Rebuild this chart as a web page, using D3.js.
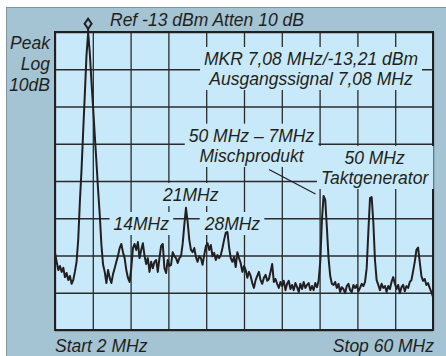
<!DOCTYPE html>
<html><head><meta charset="utf-8">
<script src="https://cdnjs.cloudflare.com/ajax/libs/d3/7.8.5/d3.min.js"></script>
<style>
html,body{margin:0;padding:0;background:#fff;}
text{font-family:"Liberation Sans",Arial,Helvetica,sans-serif;font-style:italic;fill:#231f20;}
</style></head>
<body><svg id="c" width="446" height="356"></svg>
<script>
// ---- data ----
const sweepStart = 2, sweepStop = 60;          // MHz
const refLevel = -13, dbPerDiv = 10, yDivs = 8; // dBm
const xDivs = 10;
const levels = [
-72.3,-74.7,-76.9,-75.8,-77.4,-76.3,-78.8,-77.7,-79.6,-78.5,
-80.6,-79.6,-77.4,-74.7,-68.8,-58.6,-50.0,-39.6,-29.6,-19.2,
-13.2,-18.7,-26.4,-33.4,-40.9,-47.9,-55.4,-62.1,-70.2,-75.5,
-77.4,-80.4,-76.9,-79.0,-80.4,-78.0,-76.4,-74.7,-73.1,-71.0,
-69.9,-72.1,-73.7,-76.9,-79.0,-80.1,-76.4,-71.0,-69.9,-71.5,
-69.4,-73.7,-71.5,-69.7,-73.1,-75.3,-73.7,-77.4,-74.7,-76.4,
-74.7,-74.2,-77.4,-73.7,-70.5,-69.9,-76.4,-77.7,-74.2,-75.8,
-75.5,-72.1,-73.2,-73.7,-75.0,-73.7,-73.2,-69.9,-64.8,-60.2,
-64.0,-68.8,-71.5,-72.1,-71.0,-73.4,-74.7,-73.2,-73.7,-75.5,
-72.9,-70.5,-69.7,-71.5,-70.2,-73.2,-72.3,-74.2,-72.9,-73.7,
-72.9,-71.0,-68.8,-66.9,-66.7,-70.8,-73.7,-74.7,-73.4,-76.1,
-72.1,-73.7,-75.0,-77.4,-75.8,-76.9,-79.0,-77.4,-78.5,-80.4,
-81.7,-79.6,-78.5,-77.4,-79.6,-80.6,-79.0,-78.2,-79.8,-79.3,
-77.4,-75.3,-80.1,-79.3,-80.6,-81.7,-80.1,-81.2,-79.8,-82.3,
-80.6,-79.8,-82.0,-80.9,-82.3,-80.4,-81.5,-82.8,-80.6,-82.0,
-80.1,-81.7,-80.9,-80.4,-82.3,-81.2,-82.3,-80.4,-81.5,-79.8,
-74.7,-63.5,-57.0,-58.1,-65.6,-73.7,-78.5,-80.6,-80.9,-80.1,
-81.7,-80.6,-82.8,-81.5,-82.0,-83.1,-81.2,-80.6,-82.3,-82.8,
-80.9,-81.7,-80.9,-82.6,-81.7,-80.6,-81.2,-80.1,-76.4,-66.7,
-57.6,-57.3,-64.0,-74.2,-79.6,-80.9,-82.3,-80.6,-81.7,-81.2,
-82.8,-81.2,-82.0,-80.1,-78.8,-80.6,-82.0,-80.9,-83.1,-81.5,
-80.9,-82.6,-81.2,-81.7,-80.1,-79.6,-77.2,-74.7,-71.5,-70.9,
-74.7,-78.5,-79.8,-79.3,-80.9,-80.4,-81.7,-82.8,-84.1
];
const markerFreq = 7.08, markerLevel = -13.21;
const headerText = "Ref -13 dBm Atten 10 dB";
const scaleLines = ["Peak", "Log", "10dB"];
const markerLines = ["MKR 7,08 MHz/-13,21 dBm", "Ausgangssignal 7,08 MHz"];
const mixLines = ["50 MHz \u2013 7MHz", "Mischprodukt"];
const clockLines = ["50 MHz", "Taktgenerator"];
const harmonicLabels = ["21MHz", "14MHz", "28MHz"];
const startLabel = "Start 2 MHz", stopLabel = "Stop 60 MHz";

// ---- layout ----
const svg = d3.select("#c");
const L = 55, T = 32, R = 433, B = 330;
const PANEL = "#a4c3d3", PLOT = "#c8e9f9", INK = "#231f20";

const freqs = levels.map((_, i) => sweepStart + i * (sweepStop - sweepStart) / (levels.length - 1));
const x = d3.scaleLinear().domain([sweepStart, sweepStop]).range([L, R]);
const y = d3.scaleLinear().domain([refLevel, refLevel - dbPerDiv * yDivs]).range([T, B]);

svg.append("rect").attr("x", 6.5).attr("y", 7.5).attr("width", 446).attr("height", 356)
  .attr("fill", PANEL).attr("stroke", "#8195a1").attr("stroke-width", 1);
svg.append("rect").attr("x", L).attr("y", T).attr("width", R - L).attr("height", B - T).attr("fill", PLOT);

const xTicks = d3.range(xDivs + 1).map(k => sweepStart + k * (sweepStop - sweepStart) / xDivs);
const yTicks = d3.range(yDivs + 1).map(k => refLevel - k * dbPerDiv);
const gx = svg.append("g").attr("transform", `translate(0,${B})`)
  .call(d3.axisBottom(x).tickValues(xTicks).tickSize(-(B - T)).tickFormat(""));
const gy = svg.append("g").attr("transform", `translate(${L},0)`)
  .call(d3.axisLeft(y).tickValues(yTicks).tickSize(-(R - L)).tickFormat(""));
[gx, gy].forEach(g => {
  g.select(".domain").remove();
  g.selectAll("line").attr("stroke", "#2b2b2b").attr("stroke-width", 1.3);
});
svg.append("rect").attr("x", L).attr("y", T).attr("width", R - L).attr("height", B - T)
  .attr("fill", "none").attr("stroke", INK).attr("stroke-width", 2);

// annotation groups with knock-out boxes
const ann = svg.append("g");
function block(lines, cx, baselines, anchor) {
  const g = ann.append("g");
  const bg = g.append("rect").attr("fill", PLOT);
  lines.forEach((s, i) => g.append("text").attr("x", cx).attr("y", baselines[i])
    .attr("text-anchor", anchor || "middle").attr("font-size", 17.5).text(s));
  const bb = g.node().getBBox();
  bg.attr("x", bb.x - 4).attr("y", bb.y - 2).attr("width", bb.width + 8).attr("height", bb.height + 3);
  return g;
}
const tracePath = svg.append("g");
block(markerLines, 311, [65, 85]);
block(mixLines, 251.5, [141.7, 162]);
block(clockLines, 374.6, [164, 184]);
block([harmonicLabels[0]], 190.7, [201]);
block([harmonicLabels[1]], 141.3, [230]);
block([harmonicLabels[2]], 232.4, [230]);

// trace
svg.append("path").datum(levels)
  .attr("fill", "none").attr("stroke", INK).attr("stroke-width", 2).attr("stroke-linejoin", "round")
  .attr("d", d3.line().x((d, i) => x(freqs[i])).y(d => y(d)));

// leader line
svg.append("line").attr("x1", 269).attr("y1", 169.5).attr("x2", 315.5).attr("y2", 194)
  .attr("stroke", INK).attr("stroke-width", 1.2);

// marker
const mx = x(markerFreq), my = y(markerLevel);
svg.append("line").attr("x1", mx).attr("x2", mx).attr("y1", my - 5).attr("y2", my)
  .attr("stroke", INK).attr("stroke-width", 2);
svg.append("path")
  .attr("d", `M${mx},${my - 14} L${mx + 3.5},${my - 9} L${mx},${my - 4} L${mx - 3.5},${my - 9}Z`)
  .attr("fill", PANEL).attr("stroke", INK).attr("stroke-width", 2);

// outside texts
svg.append("text").attr("x", 110).attr("y", 26).attr("font-size", 17.5).text(headerText);
scaleLines.forEach((s, i) => svg.append("text").attr("x", 50).attr("y", [48.5, 70, 91][i])
  .attr("text-anchor", "end").attr("font-size", 17.5).text(s));
svg.append("text").attr("x", 55).attr("y", 352).attr("font-size", 17.5).text(startLabel);
svg.append("text").attr("x", 434).attr("y", 352).attr("text-anchor", "end").attr("font-size", 17.5).text(stopLabel);
</script></body></html>
